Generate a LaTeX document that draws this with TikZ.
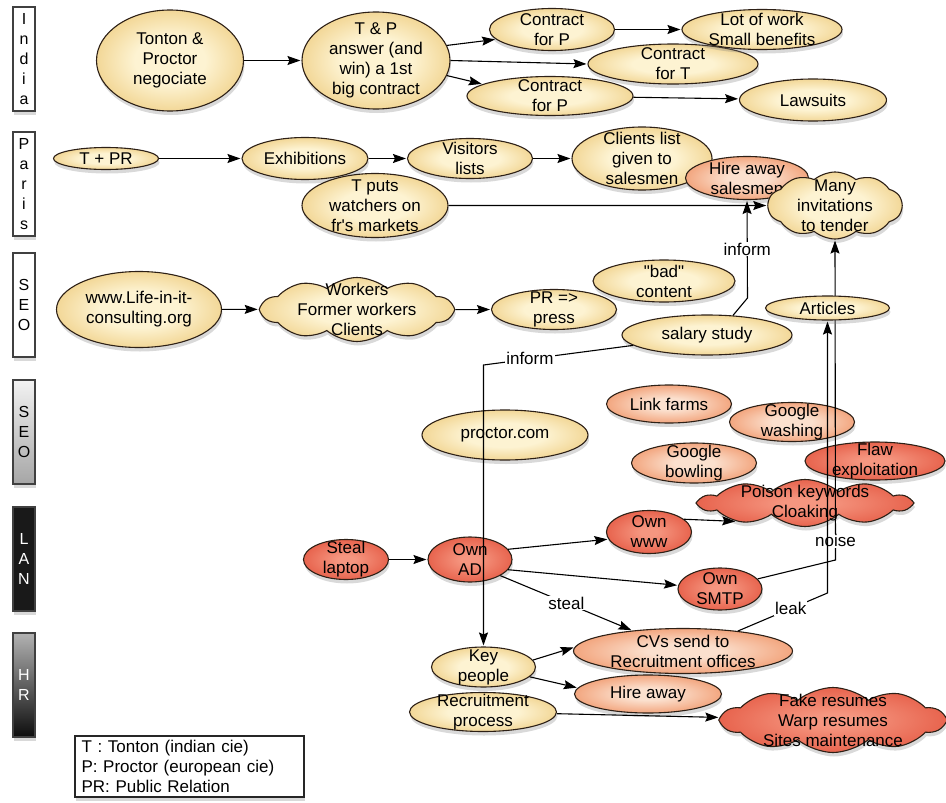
\documentclass[tikz,border=0pt]{standalone}
\usepackage{fontspec}
\setmainfont{Liberation Sans}
\usetikzlibrary{arrows.meta,shapes.geometric,shapes.symbols,shadows}

\definecolor{goldin}{RGB}{253,243,210}
\definecolor{goldout}{RGB}{227,175,66}
\definecolor{orangein}{RGB}{251,224,206}
\definecolor{orangeout}{RGB}{234,108,48}
\definecolor{redin}{RGB}{245,150,128}
\definecolor{redout}{RGB}{224,72,50}
\definecolor{edgecol}{RGB}{45,32,22}

\pgfdeclareradialshading{goldshade}{\pgfpoint{0bp}{0bp}}{color(0bp)=(goldin); color(12bp)=(goldin); color(44bp)=(goldout); color(100bp)=(goldout)}
\pgfdeclareradialshading{orangeshade}{\pgfpoint{0bp}{0bp}}{color(0bp)=(orangein); color(8bp)=(orangein); color(42bp)=(orangeout); color(100bp)=(orangeout)}
\pgfdeclareradialshading{redshade}{\pgfpoint{0bp}{0bp}}{color(0bp)=(redin); color(5bp)=(redin); color(36bp)=(redout); color(100bp)=(redout)}

\begin{document}
\begin{tikzpicture}[x=1pt,y=-1pt,->,>={Stealth[length=13pt,width=9pt,inset=2pt]},shorten >=1pt,line width=1.1pt,
  font=\fontsize{17}{20}\selectfont,
  base node/.style={draw=edgecol,align=center,drop shadow={shadow xshift=1pt,shadow yshift=-4pt,opacity=.3}},
  gold node/.style={base node,ellipse,shading=goldshade,inner sep=-20pt},
  orange node/.style={base node,ellipse,shading=orangeshade,inner sep=-20pt},
  red node/.style={base node,ellipse,shading=redshade,inner sep=-20pt},
  gold cloud/.style={base node,cloud,cloud puffs=10,cloud puff arc=80,cloud ignores aspect,shading=goldshade,inner sep=-10pt},
  red cloud/.style={base node,cloud,cloud puffs=10,cloud puff arc=80,cloud ignores aspect,shading=redshade,inner sep=-10pt},
  lane/.style={base node,rectangle,draw=black!75,minimum width=22pt,minimum height=104pt,inner sep=0pt,font=\fontsize{16}{20}\selectfont},
  lbl/.style={fill=white,inner sep=1pt}]
  \useasboundingbox (0,0) rectangle (946,803);

  % lanes
  \node[lane,fill=white] (india) at (24,59) {I\\n\\d\\i\\a};
  \node[lane,fill=white] (paris) at (24,184) {P\\a\\r\\i\\s};
  \node[lane,fill=white] (seoa) at (24,305) {S\\E\\O};
  \node[lane,top color=black!5,bottom color=black!35] (seob) at (24,432) {S\\E\\O};
  \node[lane,fill=black!90,text=white] (lan) at (24,559) {L\\A\\N};
  \node[lane,top color=black!30,bottom color=black!95,text=white] (hr) at (24,685) {H\\R};

  % India
  \node[gold node,minimum width=147pt,minimum height=101pt] (tonton) at (170,60.5) {Tonton \&\\Proctor\\negociate};
  \node[gold node,minimum width=148pt,minimum height=97pt] (tpans) at (376,60.5) {T \& P\\answer (and\\win) a 1st\\big contract};
  \node[gold node,minimum width=125pt,minimum height=42pt] (cp1) at (552,29.5) {Contract\\for P};
  \node[gold node,minimum width=170pt,minimum height=40pt] (ct) at (673,64) {Contract\\for T};
  \node[gold node,minimum width=160pt,minimum height=40pt] (lot) at (762,29.5) {Lot of work\\Small benefits};
  \node[gold node,minimum width=166pt,minimum height=39pt] (cp2) at (550,96) {Contract\\for P};
  \node[gold node,minimum width=147pt,minimum height=42pt] (law) at (813,100) {Lawsuits};

  % Paris
  \node[gold node,minimum width=105pt,minimum height=22pt] (tpr) at (106,158.5) {T + PR};
  \node[gold node,minimum width=126pt,minimum height=42pt] (exh) at (305,158.5) {Exhibitions};
  \node[gold node,minimum width=125pt,minimum height=40pt] (vis) at (470,158.5) {Visitors\\lists};
  \node[gold node,minimum width=146pt,minimum height=64pt] (watch) at (375,205.5) {T puts\\watchers on\\fr\textquotesingle s markets};
  \node[gold node,minimum width=140pt,minimum height=63pt] (cli) at (642,158.5) {Clients list\\given to\\salesmen};
  \node[orange node,minimum width=123pt,minimum height=43pt] (hires) at (747,178) {Hire away\\salesmen};
  \node[gold cloud,minimum width=134pt,minimum height=67pt] (invit) at (835,205.5) {Many\\invitations\\to tender};

  % SEO
  \node[gold node,minimum width=165pt,minimum height=76pt] (www) at (139,309.5) {www.Life-in-it-\\consulting.org};
  \node[gold cloud,minimum width=191pt,minimum height=64pt] (work) at (357,309.5) {Workers\\Former workers\\Clients};
  \node[gold node,minimum width=142pt,minimum height=42pt] (bad) at (664,281) {\textquotedbl bad\textquotedbl\\content};
  \node[gold node,minimum width=125pt,minimum height=40pt] (pr) at (554,309.5) {PR =>\\press};
  \node[gold node,minimum width=170pt,minimum height=40pt] (sal) at (707,335) {salary study};
  \node[gold node,minimum width=166pt,minimum height=50pt] (proctor) at (505,435) {proctor.com};
  \node[orange node,minimum width=125pt,minimum height=38pt] (link) at (669,404) {Link farms};
  \node[orange node,minimum width=125pt,minimum height=39pt] (gwash) at (792,422) {Google\\washing};
  \node[orange node,minimum width=125pt,minimum height=40pt] (gbowl) at (694,463) {Google\\bowling};
  \node[red node,minimum width=140pt,minimum height=38pt] (flaw) at (875,461) {Flaw\\exploitation};
  \node[red cloud,minimum width=210pt,minimum height=47pt] (poison) at (805,503) {Poison keywords\\Cloaking};

  % LAN
  \node[red node,minimum width=85pt,minimum height=40pt] (steal) at (346,559.5) {Steal\\laptop};
  \node[red node,minimum width=84pt,minimum height=45pt] (ad) at (470,559.5) {Own\\AD};
  \node[red node,minimum width=85pt,minimum height=43pt] (www2) at (649,532) {Own\\www};
  \node[red node,minimum width=84pt,minimum height=42pt] (smtp) at (720,589) {Own\\SMTP};

  % HR
  \node[orange node,minimum width=219pt,minimum height=45pt] (cvs) at (683,651) {CVs send to\\Recruitment offices};
  \node[gold node,minimum width=104pt,minimum height=40pt] (key) at (483.5,667) {Key\\people};
  \node[orange node,minimum width=147pt,minimum height=38pt] (hire) at (648,694) {Hire away};
  \node[gold node,minimum width=147pt,minimum height=39pt] (rec) at (483,712) {Recruitment\\process};
  \node[red cloud,minimum width=222pt,minimum height=65pt] (fake) at (833,720) {Fake resumes\\Warp resumes\\Sites maintenance};

  \node[base node,rectangle,draw=black!85,fill=white,align=left,text width=216pt,inner xsep=6.5pt,inner ysep=1pt,minimum height=61pt] (legend) at (189.5,766.5)
    {T : Tonton (indian cie)\\P: Proctor (european cie)\\PR: Public Relation};

  \path (tonton) edge (tpans)
    (tpans.12) edge (cp1.190)
    (tpans.east) edge (ct.west)
    (tpans.-12) edge (cp2.170)
    (cp1) edge (lot)
    (cp2) edge (law)
    (tpr) edge (exh)
    (exh) edge (vis)
    (vis) edge (cli)
    (watch) edge (invit)
    (www) edge (work)
    (work) edge (pr)
    (steal) edge (ad)
    (ad.15) edge (www2.190)
    (www2.20) edge (poison.195)
    (ad.-15) edge (smtp.175)
    (key.8) edge (cvs.178)
    (key.-12) edge (hire.175)
    (rec) edge (fake);

  \draw (sal.37) -- (747.5,298) -- node[lbl]{inform} (hires.south);
  \draw (sal.188) -- node[lbl,pos=.69]{inform} (483.5,365) -- (key.north);
  \draw (ad.-28) -- node[lbl]{steal} (cvs.158);
  \draw (smtp.15) -- (835.5,560) -- node[lbl,pos=.06]{noise} (invit.south);

  \node[gold node,minimum width=124pt,minimum height=24pt] (arts) at (827.5,308) {Articles};
  \draw (cvs.20) -- node[lbl,pos=.59]{leak} (827.5,593) -- (arts.south);
\end{tikzpicture}
\end{document}
